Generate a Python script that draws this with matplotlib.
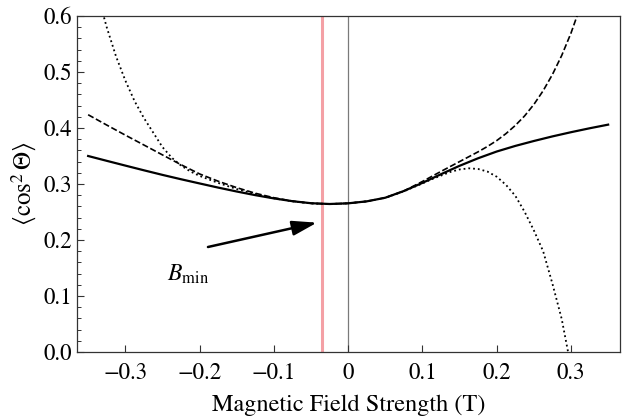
import matplotlib
matplotlib.use("Agg")
import matplotlib.pyplot as plt
from matplotlib.ticker import MultipleLocator

plt.rcParams['font.family'] = ['STIXGeneral', 'Liberation Serif', 'DejaVu Serif']
plt.rcParams['mathtext.fontset'] = 'stix'

# ---- data ----
# solid curve
exact_field = [-0.35, -0.325, -0.30, -0.275, -0.25, -0.225, -0.20, -0.175, -0.15, -0.125,
               -0.10, -0.075, -0.05, -0.025, 0.0, 0.025, 0.05, 0.075, 0.10, 0.125,
               0.15, 0.175, 0.20, 0.225, 0.25, 0.275, 0.30, 0.325, 0.35]
exact = [0.3500, 0.3414, 0.3329, 0.3245, 0.3163, 0.3085, 0.3010, 0.2936, 0.2866, 0.2801,
         0.2743, 0.2693, 0.2657, 0.2643, 0.2655, 0.2690, 0.2755, 0.2875, 0.3020, 0.3175,
         0.3325, 0.3460, 0.3580, 0.3680, 0.3768, 0.3850, 0.3925, 0.3995, 0.4060]

# dashed curve
dashed_field = [-0.35, -0.325, -0.30, -0.275, -0.25, -0.225, -0.20, -0.175, -0.15, -0.125,
                -0.10, -0.075, -0.05, -0.025, 0.0, 0.025, 0.05, 0.075, 0.10, 0.125,
                0.15, 0.175, 0.1875, 0.20, 0.2125, 0.225, 0.2375, 0.25, 0.2625, 0.275,
                0.2875, 0.30, 0.3125, 0.325]
dashed = [0.4237, 0.4053, 0.3873, 0.3697, 0.3520, 0.3345, 0.3180, 0.3050, 0.2935, 0.2835,
          0.2755, 0.2695, 0.2655, 0.2643, 0.2655, 0.2690, 0.2755, 0.2875, 0.3045, 0.3225,
          0.3400, 0.3575, 0.3670, 0.3775, 0.3900, 0.4045, 0.4215, 0.4420, 0.4665, 0.4955,
          0.5295, 0.5695, 0.6165, 0.6705]

# dotted curve
dotted_field = [-0.35, -0.3375, -0.325, -0.3125, -0.30, -0.2875, -0.275, -0.2625, -0.25,
                -0.2375, -0.225, -0.2125, -0.20, -0.175, -0.15, -0.125, -0.10, -0.075,
                -0.05, -0.025, 0.0, 0.025, 0.05, 0.075, 0.10, 0.1125, 0.125, 0.1375,
                0.15, 0.1625, 0.175, 0.1875, 0.20, 0.2125, 0.225, 0.2375, 0.25, 0.2625,
                0.275, 0.2875, 0.30, 0.3125, 0.325]
dotted = [0.700, 0.640, 0.580, 0.528, 0.485, 0.448, 0.418, 0.392, 0.366,
          0.347, 0.333, 0.3225, 0.3145, 0.3020, 0.2910, 0.2820, 0.2745, 0.2690,
          0.2653, 0.2643, 0.2655, 0.2690, 0.2753, 0.2870, 0.3010, 0.3085, 0.3150, 0.3215,
          0.3260, 0.3280, 0.3268, 0.3222, 0.3130, 0.2984, 0.2790, 0.2505, 0.2172, 0.1800,
          0.1220, 0.0590, -0.027, -0.120, -0.220]

b_min = -0.0346
xtick_vals = [-0.3, -0.2, -0.1, 0.0, 0.1, 0.2, 0.3]
xtick_labels = ['\u22120.3', '\u22120.2', '\u22120.1', '0', '0.1', '0.2', '0.3']
ytick_vals = [0.0, 0.1, 0.2, 0.3, 0.4, 0.5, 0.6]
ytick_labels = ['0.0', '0.1', '0.2', '0.3', '0.4', '0.5', '0.6']

fig = plt.figure(figsize=(6.39, 4.19), dpi=100)
ax = fig.add_axes([0.1205, 0.1599, 0.8498, 0.8019])

ax.axvline(b_min, color='#f4a0a5', lw=2.2, zorder=1)
ax.axvline(0.0, color='#7a7a7a', lw=0.9, zorder=1)

ax.plot(dotted_field, dotted, color='black', lw=1.3, ls=':', zorder=3)
ax.plot(dashed_field, dashed, color='black', lw=1.2, ls='--', zorder=3)
ax.plot(exact_field, exact, color='black', lw=1.6, ls='-', zorder=4)

ax.annotate('', xy=(-0.042, 0.231), xytext=(-0.1887, 0.1875),
            arrowprops=dict(arrowstyle='-|>,head_length=1.5,head_width=0.45',
                            color='black', lw=1.8, shrinkA=0, shrinkB=0))
ax.text(-0.2443, 0.1268, r'$B_{\rm min}$', fontsize=17, ha='left', va='baseline')

ax.set_xlim(-0.365, 0.366)
ax.set_ylim(0.0, 0.6)
ax.set_xticks(xtick_vals)
ax.set_xticklabels(xtick_labels)
ax.set_yticks(ytick_vals)
ax.set_yticklabels(ytick_labels)
ax.yaxis.set_minor_locator(MultipleLocator(0.02))

ax.tick_params(axis='both', which='both', direction='in', top=False, right=False,
               labelsize=16.5, color='#333333')
ax.tick_params(axis='both', which='major', length=5, width=0.8)
ax.tick_params(axis='y', which='minor', length=3, width=0.7)
ax.tick_params(axis='x', which='major', pad=8)

for s in ax.spines.values():
    s.set_color('#333333')
    s.set_linewidth(0.9)

ax.set_xlabel('Magnetic Field Strength (T)', fontsize=17.5, labelpad=7)
ax.set_ylabel(r'$\langle\cos^2\Theta\rangle$', fontsize=18, labelpad=3)

fig.savefig('out.png', dpi=100)
